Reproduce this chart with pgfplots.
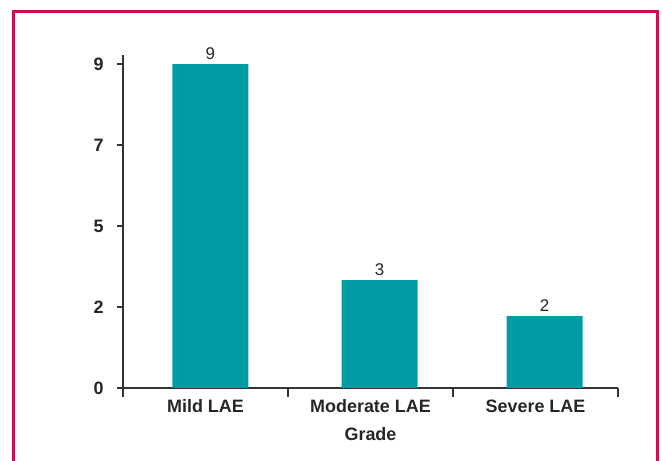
\documentclass[border=0pt]{standalone}
\usepackage{pgfplots}
\pgfplotsset{compat=1.18}
\usepackage{fontspec}
\setmainfont{Liberation Sans}
\definecolor{barteal}{RGB}{0,158,164}
\definecolor{framered}{RGB}{208,16,76}
\definecolor{axgray}{RGB}{51,51,51}
\begin{document}
\begin{tikzpicture}[x=1bp,y=1bp]
\begin{axis}[
  at={(0,0)}, anchor=south west,
  scale only axis,
  width=495bp, height=333bp,
  xmin=-0.5, xmax=2.5,
  ymin=0, ymax=9.25,
  axis x line=bottom, axis y line=left,
  axis line style={-, draw=axgray, line width=1.1bp},
  tick align=outside,
  xtick={0,1,2},
  xticklabels={Mild LAE, Moderate LAE, Severe LAE},
  minor xtick={-0.5,0.5,1.5,2.5},
  major x tick style={draw=none},
  minor tick length=9bp,
  major tick length=6bp,
  tick style={draw=axgray, line width=1.1bp},
  ytick={0,2.25,4.5,6.75,9},
  yticklabels={0,2,5,7,9},
  /pgf/number format/assume math mode=true,
  ticklabel style={font=\fontsize{18}{21}\selectfont\bfseries, text=black!85},
  yticklabel style={xshift=-10bp},
  xticklabel style={yshift=-2bp},
  xlabel={Grade},
  xlabel style={font=\fontsize{18}{21}\selectfont\bfseries, text=black!85, at={(axis description cs:0.5,0)}, anchor=north, yshift=-36bp},
  nodes near coords,
  every node near coord/.append style={font=\fontsize{17}{20}\selectfont, text=black!85, yshift=1bp},
]
\addplot[ybar, bar width=76bp, fill=barteal, draw=none] coordinates {(0.03,9) (1.055,3) (2.055,2)};
\end{axis}
\draw[framered, line width=3bp] (-109bp,-80bp) -- (-109bp,376bp) -- (534bp,376bp) -- (534bp,-80bp);
\pgfresetboundingbox
\useasboundingbox (-123bp,-73bp) rectangle (539bp,388bp);
\end{tikzpicture}
\end{document}
